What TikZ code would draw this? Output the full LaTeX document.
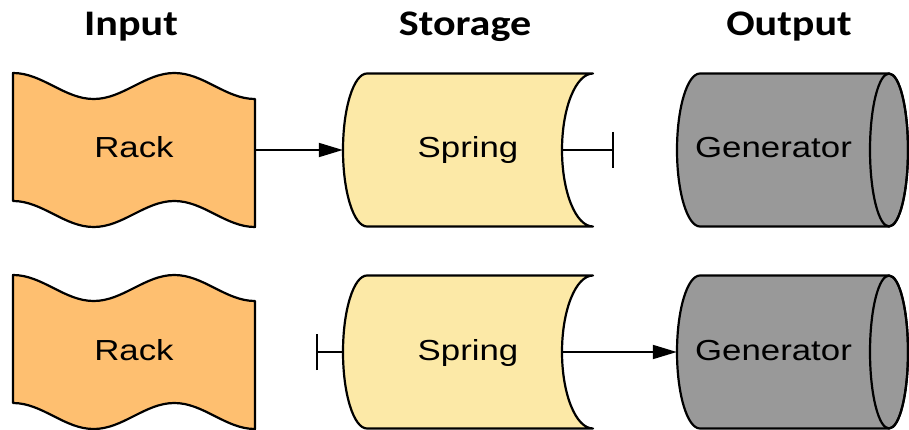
\documentclass[tikz,border=0pt]{standalone}
\usepackage{fontspec}
\newfontfamily\labelfont[FakeStretch=1.2]{Liberation Sans}
\newfontfamily\titlefont[FakeStretch=1.17]{Carlito}
\usetikzlibrary{arrows.meta}

\definecolor{rackorange}{RGB}{254,191,112}
\definecolor{springyellow}{RGB}{252,233,167}
\definecolor{gengray}{RGB}{153,153,153}

\tikzset{
    outline/.style={draw=black, line width=2.2pt, line join=round},
    title/.style={font=\titlefont\bfseries\fontsize{36}{36}\selectfont, anchor=base, inner sep=0pt},
    part/.style={font=\labelfont\fontsize{29}{29}\selectfont, inner sep=0pt, text height=22pt, text depth=6pt, minimum height=153pt},
    link/.style={line width=1.8pt, -{Triangle[length=24pt, width=14pt]}},
    blocked/.style={line width=1.8pt, -{Bar[width=36pt]}}
}

% shapes behind the labels, #1 = row centre
\newcommand{\rackshape}[1]{%
    \draw[outline, fill=rackorange, shift={(0,#1)}] (13,-77) cos (53.33,-64) sin (93.67,-51) cos (134,-64) sin (174.33,-77) cos (214.67,-64) sin (255,-51)
        -- (255,77) cos (214.67,64) sin (174.33,51) cos (134,64) sin (93.67,77) cos (53.33,64) sin (13,51) -- cycle;}
\newcommand{\springshape}[1]{%
    \draw[outline, fill=springyellow, shift={(0,#1)}] (367,-76.5) -- (593,-76.5) arc[start angle=90, end angle=270, x radius=31pt, y radius=76.5pt]
        -- (367,76.5) arc[start angle=270, end angle=90, x radius=24pt, y radius=76.5pt] -- cycle;}
\newcommand{\genshape}[1]{%
    \draw[outline, fill=gengray, shift={(0,#1)}] (700,-76.5) -- (889,-76.5) arc[start angle=90, end angle=-90, x radius=19pt, y radius=76.5pt]
        -- (700,76.5) arc[start angle=270, end angle=90, x radius=23pt, y radius=76.5pt] -- cycle;
    \draw[outline, shift={(0,#1)}] (889,0) ellipse[x radius=19pt, y radius=76.5pt];}

\begin{document}
\begin{tikzpicture}[x=1pt, y=-1pt]
    \useasboundingbox (0,0) rectangle (909,430);

    \node[title] at (131,36) (input) {Input};
    \node[title] at (465,36) (storage) {Storage};
    \node[title] at (789,36) (output) {Output};

    % winding
    \rackshape{150}
    \springshape{150}
    \genshape{150}
    \node[part, minimum width=242pt] at (134,150) (rack1) {Rack};
    \node[part, minimum width=250pt] at (468,150) (spring1) {Spring};
    \node[part, minimum width=193pt] at (773.5,150) (gen1) {Generator};
    \coordinate (stop1) at (614,150);

    \draw[link] (rack1.east) -- (spring1.west);
    \draw[blocked] ([xshift=-31pt]spring1.east) -- (stop1);

    % releasing
    \rackshape{352}
    \springshape{352}
    \genshape{352}
    \node[part, minimum width=242pt] at (134,352) (rack2) {Rack};
    \node[part, minimum width=250pt] at (468,352) (spring2) {Spring};
    \node[part, minimum width=193pt] at (773.5,352) (gen2) {Generator};
    \coordinate (stop2) at (316,352);

    \draw[blocked] (spring2.west) -- (stop2);
    \draw[link] ([xshift=-31pt]spring2.east) -- (gen2.west);
\end{tikzpicture}
\end{document}
